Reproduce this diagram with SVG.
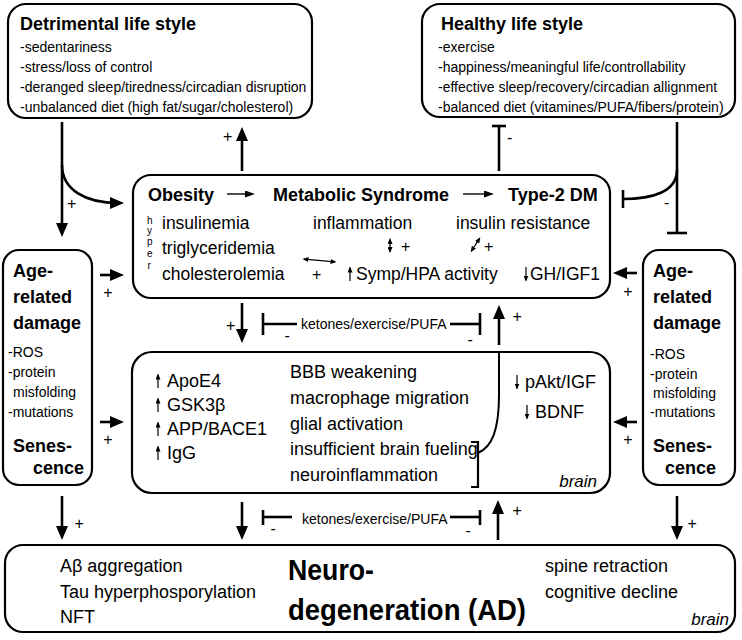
<svg xmlns="http://www.w3.org/2000/svg" width="742" height="640" viewBox="0 0 742 640">
<defs>
<style>
text{font-family:"Liberation Sans",Arial,sans-serif;fill:#000}
.box{fill:#fff;stroke:#000;stroke-width:2.2}
.ttl{font-size:18px;font-weight:bold}
.li{font-size:14px}
.m{font-size:17.5px}
.n{font-size:18px}
.sg{font-size:16px}
.br{font-size:17px;font-style:italic}
.hy{font-size:10px}
.k{font-size:14px}
.big{font-size:30px;font-weight:bold}
.c{fill:none;stroke:#000;stroke-width:2.6}
.a{marker-end:url(#ah)}
.thin{fill:none;stroke:#000;stroke-width:1.4}
.ma{marker-end:url(#mh)}
.dbl{fill:none;stroke:#000;stroke-width:1.3;marker-start:url(#sh);marker-end:url(#sh)}
.ar{fill:none;stroke:#000;stroke-width:1.2;marker-end:url(#uh)}
</style>
<marker id="ah" markerUnits="userSpaceOnUse" markerWidth="14" markerHeight="12" refX="8" refY="6" orient="auto"><path d="M0,0 L14,6 L0,12 z" fill="#000"/></marker>
<marker id="mh" markerUnits="userSpaceOnUse" markerWidth="10" markerHeight="7" refX="7" refY="3.5" orient="auto"><path d="M0,0 L10,3.5 L0,7 z" fill="#000"/></marker>
<marker id="sh" markerUnits="userSpaceOnUse" markerWidth="6" markerHeight="5" refX="4.5" refY="2.5" orient="auto-start-reverse"><path d="M0,0 L6,2.5 L0,5 z" fill="#000"/></marker>
<marker id="uh" markerUnits="userSpaceOnUse" markerWidth="6" markerHeight="5" refX="5" refY="2.5" orient="auto"><path d="M0,0 L6,2.5 L0,5 z" fill="#000"/></marker>
</defs>
<rect x="0" y="0" width="742" height="640" fill="#fff"/>

<g id="detrimental">
<rect class="box" x="8" y="4" width="304" height="114" rx="18"/>
<text class="ttl" x="20" y="30">Detrimental life style</text>
<text class="li" x="20" y="52">-sedentariness</text>
<text class="li" x="20" y="72">-stress/loss of control</text>
<text class="li" x="20" y="92">-deranged sleep/tiredness/circadian disruption</text>
<text class="li" x="20" y="112">-unbalanced diet (high fat/sugar/cholesterol)</text>
</g>

<g id="healthy">
<rect class="box" x="422" y="4" width="313" height="113" rx="18"/>
<text class="ttl" x="441" y="30">Healthy life style</text>
<text class="li" x="438" y="52">-exercise</text>
<text class="li" x="438" y="72">-happiness/meaningful life/controllability</text>
<text class="li" x="438" y="92">-effective sleep/recovery/circadian allignment</text>
<text class="li" x="438" y="112">-balanced diet (vitamines/PUFA/fibers/protein)</text>
</g>

<g id="metabolic">
<rect class="box" x="133" y="175" width="477" height="123" rx="18"/>
<text class="ttl" x="148" y="201">Obesity</text>
<line class="thin ma" x1="227" y1="194" x2="252" y2="194"/>
<text class="ttl" x="273" y="201">Metabolic Syndrome</text>
<line class="thin ma" x1="463" y1="194" x2="491" y2="194"/>
<text class="ttl" x="508" y="201">Type-2 DM</text>
<text class="hy" x="147" y="224">h</text>
<text class="hy" x="147" y="234">y</text>
<text class="hy" x="147" y="245">p</text>
<text class="hy" x="147" y="257">e</text>
<text class="hy" x="147.5" y="269">r</text>
<text class="m" x="162" y="229">insulinemia</text>
<text class="m" x="162" y="254">triglyceridemia</text>
<text class="m" x="162" y="280">cholesterolemia</text>
<text class="m" x="313" y="229">inflammation</text>
<text class="m" x="456" y="229">insulin resistance</text>
<line class="dbl" x1="390" y1="239.5" x2="390" y2="251.5"/>
<text class="sg" x="401" y="252">+</text>
<line class="dbl" x1="471.5" y1="251" x2="479.5" y2="238.5"/>
<text class="sg" x="484" y="252">+</text>
<line class="dbl" x1="304" y1="259.2" x2="335" y2="261.8"/>
<text class="sg" x="312" y="280">+</text>
<line class="ar" x1="350" y1="281" x2="350" y2="267.5"/>
<text class="m" x="356" y="280">Symp/HPA activity</text>
<line class="ar" x1="526" y1="267" x2="526" y2="280.5"/>
<text class="m" x="530" y="280">GH/IGF1</text>
</g>

<g id="age-left">
<rect class="box" x="3" y="250" width="89" height="235" rx="16"/>
<text class="ttl" x="13" y="277">Age-</text>
<text class="ttl" x="13" y="303">related</text>
<text class="ttl" x="13" y="329">damage</text>
<text class="li" x="8" y="357">-ROS</text>
<text class="li" x="8" y="377">-protein</text>
<text class="li" x="13" y="397">misfolding</text>
<text class="li" x="8" y="417">-mutations</text>
<text class="ttl" x="13" y="452">Senes-</text>
<text class="ttl" x="33" y="474">cence</text>
</g>

<g id="age-right">
<rect class="box" x="643" y="250" width="92" height="235" rx="16"/>
<text class="ttl" x="653" y="277">Age-</text>
<text class="ttl" x="653" y="303">related</text>
<text class="ttl" x="653" y="329">damage</text>
<text class="li" x="650" y="359">-ROS</text>
<text class="li" x="650" y="379">-protein</text>
<text class="li" x="653" y="398">misfolding</text>
<text class="li" x="650" y="417">-mutations</text>
<text class="ttl" x="653" y="452">Senes-</text>
<text class="ttl" x="665" y="474">cence</text>
</g>

<g id="brain">
<rect class="box" x="132" y="352" width="478" height="141" rx="20"/>
<line class="ar" x1="158" y1="388" x2="158" y2="374.5"/>
<text class="n" x="167" y="387">ApoE4</text>
<line class="ar" x1="158" y1="412" x2="158" y2="398.5"/>
<text class="n" x="167" y="411">GSK3β</text>
<line class="ar" x1="158" y1="436" x2="158" y2="422.5"/>
<text class="n" x="167" y="435">APP/BACE1</text>
<line class="ar" x1="158" y1="460" x2="158" y2="446.5"/>
<text class="n" x="167" y="459">IgG</text>
<text class="n" x="290" y="378">BBB weakening</text>
<text class="n" x="290" y="404">macrophage migration</text>
<text class="n" x="290" y="430">glial activation</text>
<text class="n" x="290" y="455">insufficient brain fueling</text>
<text class="n" x="290" y="481">neuroinflammation</text>
<path d="M471,442 L478,442 L478,487 L471,487" fill="none" stroke="#000" stroke-width="2.2"/>
<path d="M478,453 C492,447 499,430 499,395 L499,353" fill="none" stroke="#000" stroke-width="2"/>
<line class="ar" x1="517" y1="375" x2="517" y2="388.5"/>
<text class="n" x="525" y="388">pAkt/IGF</text>
<line class="ar" x1="527" y1="405" x2="527" y2="418.5"/>
<text class="n" x="535" y="418">BDNF</text>
<text class="br" x="597" y="487" text-anchor="end">brain</text>
</g>

<g id="neurodegeneration">
<rect class="box" x="5" y="545" width="730" height="87" rx="18"/>
<text class="n" x="60" y="572">Aβ aggregation</text>
<text class="n" x="60" y="598">Tau hyperphosporylation</text>
<text class="n" x="60" y="623">NFT</text>
<text class="big" x="288" y="580" textLength="86" lengthAdjust="spacingAndGlyphs">Neuro-</text>
<text class="big" x="288" y="620" textLength="238" lengthAdjust="spacingAndGlyphs">degeneration (AD)</text>
<text class="n" x="545" y="572">spine retraction</text>
<text class="n" x="545" y="598">cognitive decline</text>
<text class="br" x="729" y="625" text-anchor="end">brain</text>
</g>

<g id="connectors">
<line class="c a" x1="62" y1="122" x2="62" y2="231"/>
<path class="c a" d="M62,165 C62,190 86,203 118,203"/>
<text class="sg" x="67" y="209">+</text>
<line class="c a" x1="242" y1="171" x2="242" y2="133"/>
<text class="sg" x="223" y="142">+</text>
<line class="c" x1="499" y1="171" x2="499" y2="126"/>
<line class="c" x1="492" y1="126" x2="506" y2="126"/>
<text class="sg" x="507" y="143">-</text>
<line class="c" x1="677" y1="122" x2="677" y2="233"/>
<line class="c" x1="667" y1="233" x2="687" y2="233"/>
<path class="c" d="M677,170 C677,192 652,199 623,199"/>
<line class="c" x1="623" y1="190" x2="623" y2="208"/>
<text class="sg" x="664" y="208">-</text>
<line class="c a" x1="100" y1="275" x2="118" y2="275"/>
<text class="sg" x="103.3" y="298">+</text>
<line class="c a" x1="100" y1="422" x2="118" y2="422"/>
<text class="sg" x="103.3" y="445">+</text>
<line class="c a" x1="637" y1="273" x2="619" y2="273"/>
<text class="sg" x="623.3" y="297">+</text>
<line class="c a" x1="637" y1="422" x2="619" y2="422"/>
<text class="sg" x="623.3" y="445">+</text>
<line class="c a" x1="242" y1="303" x2="242" y2="337"/>
<text class="sg" x="226" y="331">+</text>
<line class="c" x1="263" y1="313" x2="263" y2="335"/>
<line class="c" x1="263" y1="324" x2="297" y2="324"/>
<text class="sg" x="284.5" y="341">-</text>
<text class="k" x="301" y="329">ketones/exercise/PUFA</text>
<line class="c" x1="450" y1="324" x2="480" y2="324"/>
<line class="c" x1="480" y1="313" x2="480" y2="335"/>
<text class="sg" x="467.5" y="345">-</text>
<line class="c a" x1="499" y1="345" x2="499" y2="311"/>
<text class="sg" x="512.5" y="322">+</text>
<line class="c a" x1="62" y1="496" x2="62" y2="534"/>
<text class="sg" x="74.5" y="529">+</text>
<line class="c a" x1="242" y1="502" x2="242" y2="534"/>
<line class="c" x1="263" y1="510" x2="263" y2="525"/>
<line class="c" x1="263" y1="517" x2="292" y2="517"/>
<text class="sg" x="270.5" y="534">-</text>
<text class="k" x="302" y="524">ketones/exercise/PUFA</text>
<line class="c" x1="450" y1="517" x2="480" y2="517"/>
<line class="c" x1="480" y1="510" x2="480" y2="525"/>
<text class="sg" x="465.5" y="536">-</text>
<line class="c a" x1="498" y1="540" x2="498" y2="506"/>
<text class="sg" x="512.5" y="516">+</text>
<line class="c a" x1="677" y1="496" x2="677" y2="534"/>
<text class="sg" x="687.5" y="529">+</text>
</g>
</svg>
